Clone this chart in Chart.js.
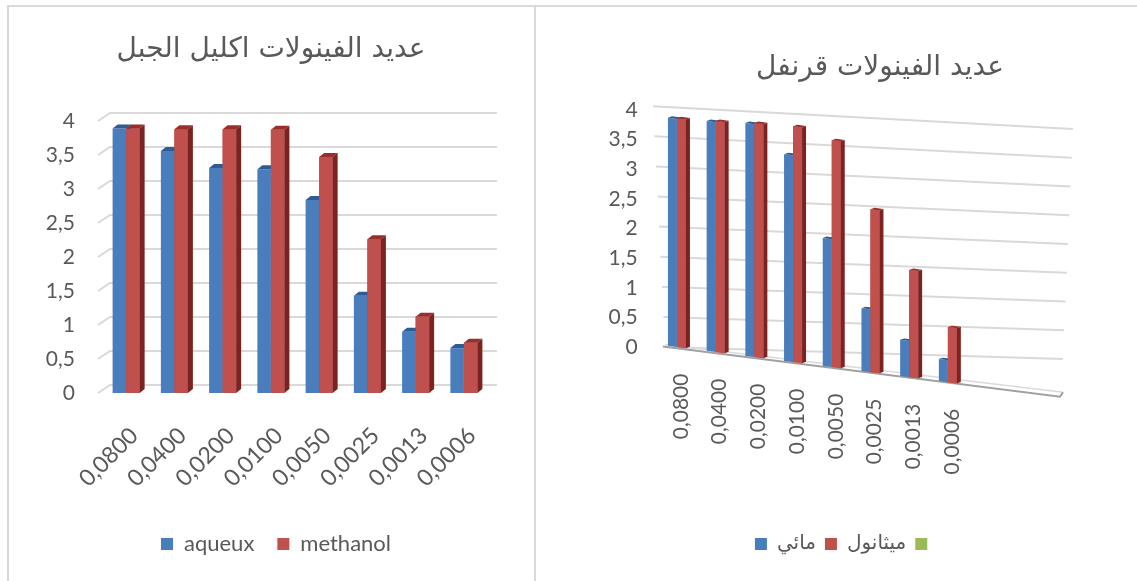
<!DOCTYPE html>
<html>
<head>
<meta charset="utf-8">
<script src="https://cdn.jsdelivr.net/npm/chart.js@4.4.1/dist/chart.umd.min.js"></script>
<style>
  html, body { margin: 0; padding: 0; background: #ffffff; }
  #page { position: relative; width: 1137px; height: 581px; overflow: hidden; background: #ffffff; }
  .rule { position: absolute; background: #d9d9d9; }
  canvas { position: absolute; }
</style>
</head>
<body>
<div id="page">
  <div class="rule" style="left:7px;top:5px;width:1130px;height:2px"></div>
  <div class="rule" style="left:7px;top:5px;width:2px;height:576px"></div>
  <div class="rule" style="left:534px;top:5px;width:2px;height:576px"></div>
  <canvas id="rosemary" width="526" height="570" style="left:8px;top:8px"></canvas>
  <canvas id="clove" width="600" height="570" style="left:537px;top:8px"></canvas>
</div>
<script>
// ---- data ----
const concentrations = ['0,0800', '0,0400', '0,0200', '0,0100', '0,0050', '0,0025', '0,0013', '0,0006'];

const rosemaryTitle = 'عديد الفينولات اكليل الجبل';
const rosemarySeriesNames = ['aqueux', 'methanol'];
const rosemaryAqueous  = [3.89, 3.56, 3.31, 3.29, 2.84, 1.43, 0.90, 0.66];
const rosemaryMethanol = [3.89, 3.88, 3.88, 3.87, 3.47, 2.26, 1.12, 0.74];

const cloveTitle = 'عديد الفينولات قرنفل';
const cloveSeriesNames = ['مائي', 'ميثانول', ''];
const cloveCategories = [...concentrations, '', ''];
const cloveAqueous  = [3.85, 3.88, 3.93, 3.49, 2.16, 1.06, 0.61, 0.37, null, null];
const cloveMethanol = [3.86, 3.90, 3.95, 3.98, 3.83, 2.75, 1.81, 0.93, null, null];
const cloveThird    = [];

const yTickValues = [0, 0.5, 1, 1.5, 2, 2.5, 3, 3.5, 4];

// ---- look ----
const BLUE = '#4a7dbb', RED = '#c0504d', GREEN = '#9bbb59';
const SHADES = [
  { cap: '#2e5c95', side: '#2b5489' },
  { cap: '#9a2e2b', side: '#7b2321' }
];
const TEXT = '#595959';
const comma = v => String(v).replace('.', ',');
const fixedTicks = scale => { scale.ticks = yTickValues.map(v => ({ value: v })); };

Chart.defaults.animation = false;
Chart.defaults.events = [];

// Heading drawn at a fixed spot of the canvas
const headingPlugin = {
  id: 'heading',
  afterDraw(chart, args, o) {
    const ctx = chart.ctx;
    ctx.save();
    ctx.font = o.font;
    ctx.fillStyle = o.color;
    ctx.textAlign = 'center';
    ctx.textBaseline = 'middle';
    ctx.fillText(o.text, o.x, o.y);
    ctx.restore();
  }
};

// Moves the legend sideways once the layout is done
const legendShift = {
  id: 'legendShift',
  afterLayout(chart, args, o) {
    const lg = chart.legend;
    if (!lg) return;
    lg.left += o.dx;
    lg.right += o.dx;
  }
};

// Top caps and side faces that give the columns their depth
function drawPrismFaces(chart, dx, dy) {
  const ctx = chart.ctx;
  const metas = chart.getSortedVisibleDatasetMetas()
    .filter(m => m.data.length)
    .sort((a, b) => a.index - b.index);
  const n = chart.data.labels.length;
  for (let i = 0; i < n; i++) {
    metas.forEach((meta, k) => {
      const ds = chart.data.datasets[meta.index];
      const bar = meta.data[i];
      if (!bar || ds.data[i] == null) return;
      const { x, y, base, width } = bar.getProps(['x', 'y', 'base', 'width'], true);
      if (!isFinite(y) || !isFinite(base)) return;
      const l = x - width / 2, r = x + width / 2;
      if (k > 0) {
        ctx.fillStyle = ds.backgroundColor;
        ctx.fillRect(l, y, width, base - y);
      }
      ctx.fillStyle = SHADES[k].cap;
      ctx.beginPath();
      ctx.moveTo(l, y); ctx.lineTo(r, y); ctx.lineTo(r + dx, y - dy); ctx.lineTo(l + dx, y - dy);
      ctx.closePath(); ctx.fill();
      ctx.fillStyle = SHADES[k].side;
      ctx.beginPath();
      ctx.moveTo(r, y); ctx.lineTo(r + dx, y - dy); ctx.lineTo(r + dx, base - dy); ctx.lineTo(r, base);
      ctx.closePath(); ctx.fill();
    });
  }
}

// ---- rosemary chart (oblique 3D columns) ----
const rosemaryDepth = {
  id: 'rosemaryDepth',
  beforeDatasetsDraw(chart) {
    const { ctx, chartArea: a, scales: { y } } = chart;
    ctx.save();
    ctx.strokeStyle = '#d9d9d9';
    ctx.lineWidth = 2;
    y.ticks.forEach(t => {
      const py = y.getPixelForValue(t.value);
      ctx.beginPath();
      ctx.moveTo(a.left - 4, py);
      ctx.lineTo(a.left + 8, py - 8);
      ctx.lineTo(a.right + 9, py - 8);
      ctx.stroke();
    });
    ctx.restore();
  },
  afterDatasetsDraw(chart) {
    drawPrismFaces(chart, 5, 4);
  }
};

new Chart(document.getElementById('rosemary'), {
  type: 'bar',
  data: {
    labels: concentrations,
    datasets: [
      { label: rosemarySeriesNames[0], data: rosemaryAqueous, backgroundColor: BLUE, borderWidth: 0 },
      { label: rosemarySeriesNames[1], data: rosemaryMethanol, backgroundColor: RED, borderWidth: 0 }
    ]
  },
  options: {
    responsive: false,
    layout: { padding: { top: 113, left: 0, right: 46, bottom: 13 } },
    datasets: { bar: { categoryPercentage: 0.56, barPercentage: 1 } },
    scales: {
      x: {
        grid: { display: false, drawTicks: false },
        border: { display: false },
        ticks: {
          autoSkip: false, minRotation: 45, maxRotation: 45, padding: 29, labelOffset: 8,
          color: TEXT, font: { family: 'Lato', size: 23 }
        },
        afterFit: s => { s.height = 117; }
      },
      y: {
        min: 0, max: 4,
        grid: { display: false, drawTicks: false },
        border: { display: false },
        afterBuildTicks: fixedTicks,
        ticks: { padding: 27, color: TEXT, font: { family: 'Lato', size: 21 }, callback: v => comma(v) },
        afterFit: s => { s.width = 94; }
      }
    },
    plugins: {
      legend: {
        position: 'bottom', fullSize: true,
        labels: { boxWidth: 12, boxHeight: 12, padding: 23, color: TEXT, font: { family: 'Lato', size: 22 } }
      },
      legendShift: { dx: 28 },
      tooltip: { enabled: false },
      heading: { text: rosemaryTitle, x: 263, y: 42, font: '28px "DejaVu Sans"', color: TEXT }
    }
  },
  plugins: [rosemaryDepth, legendShift, headingPlugin]
});

// ---- clove chart (perspective 3D columns) ----
const SHEAR = 0.13;
const clovePerspective = {
  id: 'clovePerspective',
  beforeDatasetsDraw(chart) {
    const { ctx, chartArea: a, scales: { x, y } } = chart;
    const y0 = y.getPixelForValue(0);
    const yTop = y.getPixelForValue(4);
    const x0 = x.getPixelForValue(0);
    ctx.save();
    // back wall lines
    ctx.strokeStyle = '#d9d9d9';
    ctx.lineWidth = 2;
    y.ticks.forEach(t => {
      const yv = y.getPixelForValue(t.value);
      const f = (y0 - yv) / (y0 - yTop);
      ctx.beginPath();
      ctx.moveTo(a.left + 7.4 - 12 * f, y0 + (yv - y0) * 1.016);
      ctx.lineTo(a.right + 18.4 + 10 * f, y0 + 12 + (yv - y0) * 0.97);
      ctx.stroke();
    });
    // floor front edge
    const fx1 = a.left + 7.4, fx2 = a.right + 15.4;
    const fy2 = y0 + SHEAR * (fx2 - x0);
    ctx.strokeStyle = '#dadada';
    ctx.lineWidth = 1.5;
    ctx.beginPath(); ctx.moveTo(fx1, y0 - 2.5); ctx.lineTo(fx2 + 3, fy2 - 4.5); ctx.stroke();
    ctx.strokeStyle = '#a0a0a0';
    ctx.lineWidth = 2;
    ctx.beginPath(); ctx.moveTo(fx1 - 2, y0 - 0.5); ctx.lineTo(fx2, fy2); ctx.lineTo(fx2 + 3, fy2 - 4.5); ctx.stroke();
    ctx.restore();
    // columns stand on the slanted floor
    ctx.save();
    ctx.transform(1, SHEAR, 0, 1, 0, -SHEAR * x0);
  },
  afterDatasetsDraw(chart) {
    drawPrismFaces(chart, 4, 2);
    chart.ctx.restore();
  },
  afterDraw(chart) {
    const { ctx, scales: { x, y } } = chart;
    const y0 = y.getPixelForValue(0);
    const x0 = x.getPixelForValue(0);
    ctx.save();
    ctx.fillStyle = TEXT;
    ctx.font = '21px Lato';
    ctx.textAlign = 'right';
    ctx.textBaseline = 'middle';
    chart.data.labels.forEach((label, i) => {
      if (!label) return;
      const px = x.getPixelForValue(i) + 4;
      const py = y0 + SHEAR * (px - x0) + 26;
      ctx.save();
      ctx.translate(px, py);
      ctx.rotate(-Math.PI / 2);
      ctx.fillText(label, 0, 0);
      ctx.restore();
    });
    ctx.restore();
  }
};

new Chart(document.getElementById('clove'), {
  type: 'bar',
  data: {
    labels: cloveCategories,
    datasets: [
      { label: cloveSeriesNames[0], data: cloveAqueous, backgroundColor: BLUE, borderWidth: 0 },
      { label: cloveSeriesNames[1], data: cloveMethanol, backgroundColor: RED, borderWidth: 0 },
      { label: cloveSeriesNames[2], data: cloveThird, backgroundColor: GREEN, borderWidth: 0, grouped: false }
    ]
  },
  options: {
    responsive: false,
    layout: { padding: { top: 102, left: 0, right: 92.4, bottom: 14 } },
    datasets: { bar: { categoryPercentage: 0.465, barPercentage: 1, clip: false } },
    scales: {
      x: {
        grid: { display: false, drawTicks: false },
        border: { display: false },
        ticks: { display: false, autoSkip: false },
        afterFit: s => { s.height = 178; }
      },
      y: {
        min: 0, max: 4,
        grid: { display: false, drawTicks: false },
        border: { display: false },
        afterBuildTicks: fixedTicks,
        ticks: { padding: 20, color: TEXT, font: { family: 'Lato', size: 21 }, callback: v => comma(v) },
        afterFit: s => { s.width = 120.6; }
      }
    },
    plugins: {
      legend: {
        position: 'bottom', fullSize: false,
        labels: { boxWidth: 12, boxHeight: 12, padding: 9, color: TEXT, font: { family: 'DejaVu Sans', size: 20 } }
      },
      legendShift: { dx: -5 },
      tooltip: { enabled: false },
      heading: { text: cloveTitle, x: 343, y: 60, font: '28px "DejaVu Sans"', color: TEXT }
    }
  },
  plugins: [clovePerspective, legendShift, headingPlugin]
});
</script>
</body>
</html>
